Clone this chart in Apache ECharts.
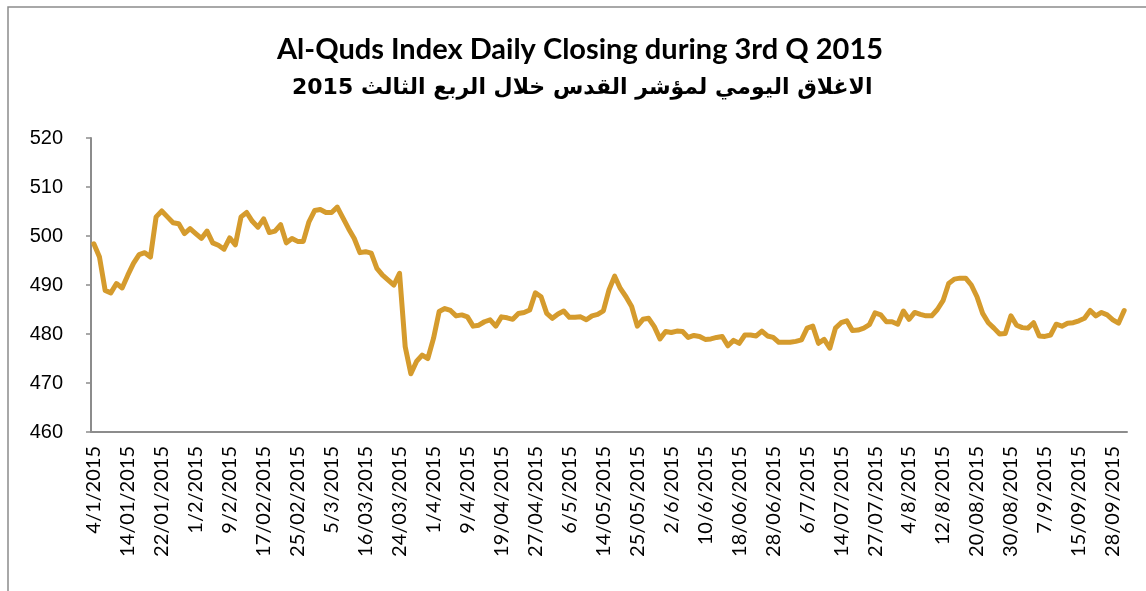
<!DOCTYPE html>
<html>
<head>
<meta charset="utf-8">
<title>Al-Quds Index</title>
<script src="https://cdn.jsdelivr.net/npm/echarts@6/dist/echarts.min.js"></script>
<style>
	html, body { margin: 0; padding: 0; background: #fff; }
	#quds_chart { width: 1146px; height: 591px; }
</style>
</head>
<body>
<div id="quds_chart"></div>
<script>
// tick labels shown under the axis, one every 6 trading days
var tickLabels = ['4/1/2015', '14/01/2015', '22/01/2015', '1/2/2015', '9/2/2015', '17/02/2015',
	'25/02/2015', '5/3/2015', '16/03/2015', '24/03/2015', '1/4/2015', '9/4/2015', '19/04/2015',
	'27/04/2015', '6/5/2015', '14/05/2015', '25/05/2015', '2/6/2015', '10/6/2015', '18/06/2015',
	'28/06/2015', '6/7/2015', '14/07/2015', '27/07/2015', '4/8/2015', '12/8/2015', '20/08/2015',
	'30/08/2015', '7/9/2015', '15/09/2015', '28/09/2015'];
var labelStep = 6;

// daily closing values
var closesJanFeb = [498.4, 495.7, 488.9, 488.4, 490.3, 489.4, 492.0, 494.4, 496.2, 496.6,
	495.7, 503.9, 505.1, 503.9, 502.7, 502.5, 500.5, 501.5, 500.5, 499.5,
	501.0, 498.6, 498.1, 497.3, 499.6, 498.2, 503.9, 504.8, 503.0, 501.8,
	503.5, 500.7, 501.0, 502.3, 498.6, 499.5, 498.9, 498.9, 502.9, 505.2];
var closesMarApr = [505.4, 504.8, 504.8, 505.9, 503.7, 501.5, 499.5, 496.6, 496.8, 496.5,
	493.4, 492.0, 491.0, 490.0, 492.4, 477.4, 471.9, 474.4, 475.7, 475.0,
	479.1, 484.6, 485.2, 484.8, 483.7, 483.9, 483.5, 481.6, 481.8, 482.5,
	482.9, 481.6, 483.5, 483.3, 483.0, 484.2, 484.4, 484.9, 488.4, 487.6];
var closesMayJun = [484.2, 483.2, 484.1, 484.7, 483.4, 483.4, 483.5, 482.9, 483.7, 484.0,
	484.7, 489.0, 491.8, 489.3, 487.6, 485.6, 481.6, 483.0, 483.2, 481.5,
	479.0, 480.5, 480.3, 480.6, 480.5, 479.3, 479.7, 479.5, 478.9, 479.0,
	479.3, 479.5, 477.6, 478.7, 478.1, 479.8, 479.8, 479.6, 480.6, 479.6];
var closesJulSep = [479.3, 478.3, 478.3, 478.3, 478.5, 478.8, 481.2, 481.6, 478.1, 478.9,
	477.1, 481.2, 482.3, 482.7, 480.7, 480.8, 481.2, 481.9, 484.3, 483.9,
	482.5, 482.5, 482.0, 484.7, 483.0, 484.4, 484.0, 483.7, 483.7, 485.0,
	486.8, 490.3, 491.2, 491.4, 491.4, 490.0, 487.6, 484.2, 482.3, 481.2,
	480.0, 480.1, 483.7, 481.8, 481.3, 481.2, 482.3, 479.6, 479.5, 479.8,
	482.0, 481.6, 482.2, 482.3, 482.7, 483.2, 484.8, 483.7, 484.4, 483.9,
	482.9, 482.2, 484.8];

var closes = closesJanFeb.concat(closesMarApr, closesMayJun, closesJulSep);

function initChart(){
	var myChart = echarts.init(document.getElementById('quds_chart'));
	var days = [];
	for (var i = 0; i < closes.length; i++) {
		days.push(String(i));
	}
	var axisGrey = '#8c8c8c';
	var options = {
		animation : false,
		backgroundColor : '#fff',
		graphic : [{			// chart frame
			type : 'rect',
			shape : { x : 8, y : 7, width : 1300, height : 700 },
			style : { fill : 'none', stroke : axisGrey, lineWidth : 1.5 },
			silent : true
		}],
		title : [{
			left : 272,
			top : 30,
			text : 'Al-Quds Index Daily Closing during 3rd Q 2015',
			textStyle : { fontFamily : 'Lato', fontWeight : 'bold', fontSize : 29, color : '#000' }
		}, {
			left : 287,
			top : 72,
			text : 'الاغلاق اليومي لمؤشر القدس خلال الربع الثالث 2015',
			textStyle : { fontFamily : 'DejaVu Sans', fontWeight : 'bold', fontSize : 22, color : '#000' }
		}],
		grid : {
			left : 91,
			right : 19,
			top : 138,
			bottom : 159
		},
		xAxis : {
			type : 'category',
			data : days,
			boundaryGap : true,
			axisLine : { lineStyle : { color : axisGrey, width : 2 } },
			axisTick : { interval : 0, length : 5, lineStyle : { color : axisGrey, width : 1.5 } },
			axisLabel : {
				interval : labelStep - 1,
				rotate : 90,
				margin : 14,
				fontFamily : 'Lato',
				fontSize : 20,
				color : '#000',
				formatter : function(value, index){
					return index % labelStep === 0 ? tickLabels[index / labelStep] : '';
				}
			}
		},
		yAxis : {
			type : 'value',
			min : 460,
			max : 520,
			interval : 10,
			splitLine : { show : false },
			axisLine : { show : true, lineStyle : { color : axisGrey, width : 2 } },
			axisTick : { show : true, length : 5, lineStyle : { color : axisGrey, width : 1.5 } },
			axisLabel : {
				margin : 28,
				fontFamily : 'Liberation Sans',
				fontSize : 20,
				color : '#000'
			}
		},
		series : [{
			name : 'Al-Quds Index',
			type : 'line',
			data : closes,
			symbol : 'none',
			lineStyle : { color : '#D59B2D', width : 5, join : 'round', cap : 'round' }
		}]
	};
	myChart.setOption(options);
}

initChart();
</script>
</body>
</html>
